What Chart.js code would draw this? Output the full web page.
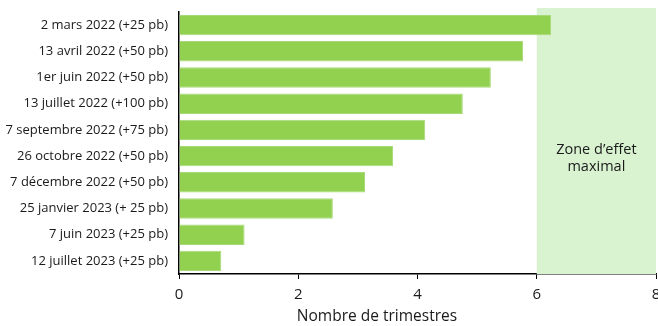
<!DOCTYPE html>
<html>
<head>
<meta charset="utf-8">
<script src="https://cdn.jsdelivr.net/npm/chart.js@4"></script>
<style>
  html, body { margin: 0; padding: 0; background: #fff; overflow: hidden; }
  #wrap { width: 658px; height: 326px; }
</style>
</head>
<body>
<div id="wrap"><canvas id="chartCanvas"></canvas></div>
<script>
// hausses de taux et nombre de trimestres écoulés
const categories = [
    '2 mars 2022 (+25 pb)',
    '13 avril 2022 (+50 pb)',
    '1er juin 2022 (+50 pb)',
    '13 juillet 2022 (+100 pb)',
    '7 septembre 2022 (+75 pb)',
    '26 octobre 2022 (+50 pb)',
    '7 décembre 2022 (+50 pb)',
    '25 janvier 2023 (+ 25 pb)',
    '7 juin 2023 (+25 pb)',
    '12 juillet 2023 (+25 pb)'
]
const quarters = [6.24, 5.77, 5.23, 4.76, 4.13, 3.59, 3.12, 2.58, 1.10, 0.71]
const xTicks = [0, 2, 4, 6, 8]
const zoneRange = [6, 8]
const zoneLabel = ['Zone d’effet', 'maximal']
const xTitle = 'Nombre de trimestres'

const font = "'Open Sans', 'Noto Sans', sans-serif"

const zonePlugin = {
    id: 'zone',
    beforeDatasetsDraw(chart) {
        const { ctx, chartArea, scales } = chart
        const x0 = scales.x.getPixelForValue(zoneRange[0])
        const x1 = scales.x.getPixelForValue(zoneRange[1])
        ctx.save()
        ctx.fillStyle = '#D9F2D0'
        ctx.fillRect(x0, chartArea.top - 4, x1 - x0, chartArea.bottom - chartArea.top + 4)
        ctx.fillStyle = '#1a1a1a'
        ctx.font = '14.5px ' + font
        ctx.textAlign = 'center'
        ctx.textBaseline = 'middle'
        const cx = (x0 + x1) / 2
        const cy = chartArea.top + (chartArea.bottom - chartArea.top) * 0.56
        zoneLabel.forEach((t, i) => ctx.fillText(t, cx, cy + (i - 0.5) * 17))
        ctx.restore()
    },
    afterDraw(chart) {
        // titre de l'axe, un peu décalé vers la gauche comme dans l'original
        const { ctx, chartArea } = chart
        ctx.save()
        ctx.fillStyle = '#1a1a1a'
        ctx.font = '15.5px ' + font
        ctx.textAlign = 'center'
        ctx.textBaseline = 'middle'
        ctx.fillText(xTitle, chartArea.left + (chartArea.right - chartArea.left) * 0.415, chart.height - 9)
        ctx.restore()
    }
}

const ctx = document.getElementById('chartCanvas')
new Chart(ctx, {
    type: 'bar',
    data: {
        labels: categories,
        datasets: [{
            data: quarters,
            backgroundColor: '#92D050',
            borderColor: '#A6DA78',
            borderWidth: 1,
            borderSkipped: 'left',
            barPercentage: 0.78,
            categoryPercentage: 1
        }]
    },
    options: {
        indexAxis: 'y',
        responsive: true,
        maintainAspectRatio: false,
        animation: false,
        events: [],
        layout: { padding: { top: 12, right: 2, left: 0, bottom: 0 } },
        plugins: {
            legend: { display: false },
            tooltip: { enabled: false }
        },
        scales: {
            x: {
                min: 0,
                max: 8,
                afterBuildTicks: s => { s.ticks = xTicks.map(v => ({ value: v })) },
                afterFit: s => { s.height = 52; s.paddingRight = 0; s.paddingLeft = 0 },
                grid: { drawOnChartArea: false, drawTicks: true, tickLength: 5, color: '#000' },
                border: { display: true, color: '#000', width: 1.5 },
                ticks: { color: '#1a1a1a', font: { family: font, size: 15 }, padding: 7, maxRotation: 0 }
            },
            y: {
                afterFit: s => { s.width = 179; s.paddingTop = 0; s.paddingBottom = 0 },
                grid: { drawOnChartArea: false, drawTicks: false },
                border: { display: true, color: '#000', width: 1.5 },
                ticks: { color: '#1a1a1a', font: { family: font, size: 13 }, padding: 11 }
            }
        }
    },
    plugins: [zonePlugin]
})
</script>
</body>
</html>
